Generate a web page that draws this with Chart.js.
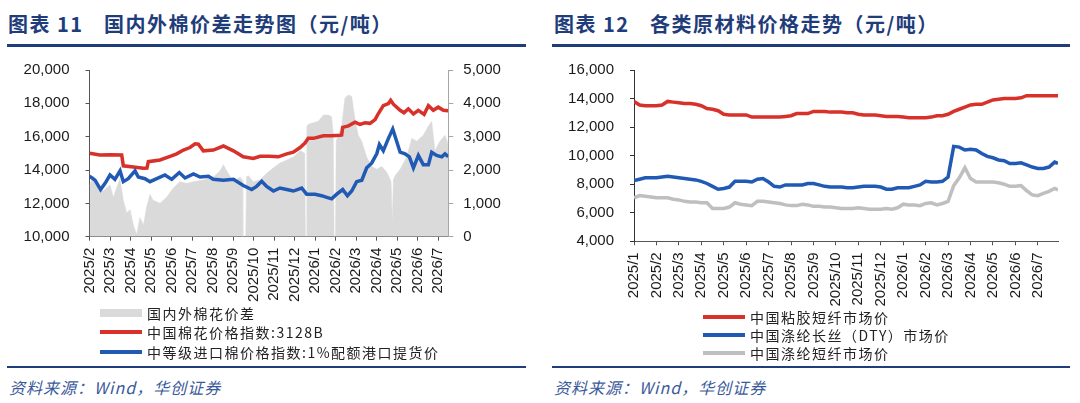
<!DOCTYPE html>
<html>
<head>
<meta charset="utf-8">
<script src="https://cdn.jsdelivr.net/npm/chart.js@4.4.1/dist/chart.umd.min.js"></script>
<style>
html, body { margin: 0; padding: 0; background: #fff; }
body { width: 1080px; height: 403px; position: relative; overflow: hidden; font-family: "Noto Sans CJK SC", "Noto Sans", sans-serif; }
.title { position: absolute; top: 13px; font-size: 20px; line-height: 22px; font-weight: bold; color: #1f3d7a; letter-spacing: 1.5px; white-space: pre; }
.rule { position: absolute; height: 2.5px; background: #1f3d7a; }
.src { position: absolute; top: 377px; font-size: 16px; line-height: 20px; font-style: italic; color: #3a5a9a; letter-spacing: 1px; }
canvas { position: absolute; top: 45px; }
.legend { position: absolute; font-size: 14px; color: #222; letter-spacing: 1.5px; }
.legend div { display: flex; align-items: center; white-space: nowrap; }
.legend i { display: inline-block; width: 42px; margin-right: 5px; }
</style>
</head>
<body>
<div class="title" style="left:8px">图表 11</div>
<div class="title" style="left:104px">国内外棉价差走势图（元/吨）</div>
<div class="rule" style="left:7px; width:519px; top:44px"></div>
<div class="title" style="left:554px">图表 12</div>
<div class="title" style="left:650px">各类原材料价格走势（元/吨）</div>
<div class="rule" style="left:552px; width:518px; top:44px"></div>

<canvas id="left" width="540" height="265" style="left:0"></canvas>
<canvas id="right" width="540" height="265" style="left:540px"></canvas>

<div class="legend" id="leftLegend" style="left:100px; top:303px"></div>
<div class="legend" id="rightLegend" style="left:703px; top:308px"></div>

<div class="rule" style="left:7px; width:519px; top:365.5px; height:2px"></div>
<div class="rule" style="left:552px; width:518px; top:365.5px; height:2px"></div>
<div class="src" style="left:9px">资料来源：Wind，华创证券</div>
<div class="src" style="left:554px">资料来源：Wind，华创证券</div>

<script>
// ---- left chart: months counted from 2025/2 ----
const leftMonths = ['2025/2', '2025/3', '2025/4', '2025/5', '2025/6', '2025/7', '2025/8', '2025/9', '2025/10',
    '2025/11', '2025/12', '2026/1', '2026/2', '2026/3', '2026/4', '2026/5', '2026/6', '2026/7'];

// 国内外棉花价差 (right axis)
const spreadMonths = [0, 0.19, 0.43, 0.67, 1.0, 1.16, 1.32, 1.49, 1.65, 1.81, 1.98, 2.14, 2.30, 2.46, 2.63, 2.79,
    2.95, 3.11, 3.44, 3.76, 4.09, 4.41, 4.74, 5.07, 5.55, 6.04, 6.37, 6.53, 6.69, 7.02, 7.34, 7.45, 7.48, 7.62,
    7.66, 7.75, 7.99, 8.32, 8.64, 8.97, 9.29, 9.62, 9.94, 10.27, 10.5, 10.53, 10.57, 10.6, 10.67, 10.92, 11.16,
    11.41, 11.65, 11.81, 11.89, 11.93, 12.0, 12.03, 12.3, 12.46, 12.63, 12.79, 12.95, 13.11, 13.28, 13.52, 13.76,
    14.01, 14.25, 14.5, 14.71, 14.77, 14.82, 14.9, 15.15, 15.47, 15.72, 15.96, 16.28, 16.53, 16.69, 16.85, 17.09,
    17.34, 17.5];
const spreadValues = [1510, 1830, 1460, 1370, 1555, 1180, 1460, 1740, 1090, 720, 810, 345, 65, 580, 345, 900,
    1275, 1090, 1000, 1180, 1460, 1650, 1600, 1650, 1700, 1790, 1975, 2160, 1975, 1650, 1790, 1700, 0, 0,
    1800, 1830, 1650, 1700, 1900, 2070, 2210, 2300, 2390, 2580, 2500, 0, 0, 3300, 3370, 3420, 3460,
    3650, 3650, 3600, 3040, 0, 0, 2860, 3320, 4160, 4250, 4210, 3510, 3040, 2860, 2390, 2110,
    2020, 2110, 1930, 1650, 440, 1700, 1830, 2020, 2390, 2950, 2860, 3040, 3320, 3460, 2580, 2860,
    3040, 2770];

// 中国棉花价格指数:3128B
const cnIndexMonths = [0, 0.51, 1.0, 1.57, 1.65, 2.14, 2.63, 2.8, 2.87, 3.44, 3.93, 4.25, 4.58, 4.9, 5.15, 5.31,
    5.55, 6.04, 6.53, 7.02, 7.5, 7.99, 8.32, 8.8, 9.21, 9.62, 9.94, 10.27, 10.51, 10.67, 10.92, 11.41, 11.81,
    12.22, 12.3, 12.35, 12.63, 12.95, 13.19, 13.44, 13.68, 13.93, 14.09, 14.33, 14.58, 14.69, 14.82, 15.15,
    15.34, 15.55, 15.8, 16.04, 16.32, 16.53, 16.77, 17.01, 17.26, 17.5];
const cnIndexValues = [15000, 14900, 14920, 14900, 14250, 14180, 14100, 14120, 14500, 14600, 14820, 14970, 15200,
    15350, 15570, 15550, 15150, 15200, 15440, 15150, 14790, 14690, 14820, 14820, 14790, 14970, 15070, 15350,
    15620, 15900, 15900, 16050, 16050, 16090, 16100, 16560, 16650, 16870, 16740, 16830, 16800, 17020, 17390,
    17860, 17990, 18180, 17950, 17580, 17430, 17670, 17360, 17580, 17340, 17860, 17580, 17770, 17580, 17550];

// 中等级进口棉价格指数:1%配额港口提货价
const importMonths = [0, 0.27, 0.54, 0.76, 1.0, 1.24, 1.49, 1.65, 1.89, 2.22, 2.38, 2.71, 2.95, 3.28, 3.68,
    4.01, 4.38, 4.66, 5.07, 5.39, 5.8, 6.04, 6.53, 7.02, 7.5, 7.91, 8.15, 8.4, 8.64, 8.97, 9.29, 9.62, 9.94,
    10.35, 10.59, 11.0, 11.32, 11.57, 11.81, 12.06, 12.35, 12.58, 12.79, 13.03, 13.28, 13.52, 13.76, 14.01,
    14.14, 14.33, 14.58, 14.79, 14.98, 15.15, 15.39, 15.6, 15.8, 16.04, 16.28, 16.53, 16.69, 16.93, 17.18,
    17.34, 17.5];
const importValues = [13630, 13390, 12830, 13200, 13700, 13440, 13950, 13300, 13480, 13950, 13580, 13480, 13300,
    13480, 13700, 13440, 13850, 13520, 13760, 13580, 13630, 13450, 13390, 13450, 13070, 12830, 13020, 13330,
    13020, 12740, 12920, 12830, 12740, 12920, 12550, 12550, 12460, 12360, 12270, 12550, 12830, 12460, 12740,
    13300, 13390, 14130, 14410, 14970, 15530, 15160, 15900, 16460, 15720, 15070, 14970, 14790, 14130, 14880,
    14320, 14320, 15070, 14880, 14790, 14970, 14800];

// ---- right chart: months counted from 2025/1, about weekly ----
const rightMonths = ['2025/1', '2025/2', '2025/3', '2025/4', '2025/5', '2025/6', '2025/7', '2025/8', '2025/9',
    '2025/10', '2025/11', '2025/12', '2026/1', '2026/2', '2026/3', '2026/4', '2026/5', '2026/6', '2026/7'];
const rightSteps = [];
for (let i = 0; i < 76; i++) rightSteps.push(i / 4);
rightSteps.push(18.9);

const viscoseValues = [13800, 13550, 13500, 13500, 13500, 13550, 13800, 13750, 13700, 13650, 13650, 13600,
    13500, 13300, 13250, 13150, 12900, 12850, 12850, 12850, 12850, 12700, 12700, 12700, 12700, 12700, 12700,
    12750, 12800, 12950, 12950, 12950, 13100, 13100, 13100, 13050, 13050, 13050, 13000, 13000, 12900, 12850,
    12850, 12850, 12800, 12750, 12750, 12750, 12700, 12650, 12650, 12650, 12650, 12700, 12800, 12800, 12900,
    13100, 13250, 13400, 13550, 13600, 13600, 13750, 13900, 13950, 14000, 14000, 14000, 14050, 14200, 14200,
    14200, 14200, 14200, 14200, 14200];
const dtyValues = [8250, 8350, 8450, 8450, 8450, 8500, 8550, 8500, 8450, 8400, 8350, 8300, 8200, 8050, 7850,
    7650, 7700, 7800, 8200, 8200, 8200, 8150, 8350, 8400, 8150, 7850, 7800, 7950, 7950, 7950, 7950, 8050, 8050,
    7950, 7850, 7800, 7800, 7800, 7750, 7750, 7800, 7850, 7850, 7850, 7800, 7650, 7650, 7750, 7750, 7750, 7850,
    7950, 8200, 8150, 8150, 8200, 8500, 10650, 10600, 10400, 10450, 10400, 10150, 9950, 9850, 9700, 9650, 9450,
    9450, 9500, 9350, 9200, 9100, 9100, 9200, 9550, 9450];
const psfValues = [7050, 7200, 7150, 7100, 7050, 7050, 7050, 6950, 6900, 6800, 6750, 6750, 6700, 6700, 6300,
    6300, 6300, 6400, 6700, 6600, 6550, 6500, 6800, 6800, 6750, 6700, 6650, 6550, 6500, 6500, 6600, 6550, 6450,
    6450, 6400, 6400, 6350, 6300, 6300, 6300, 6350, 6300, 6250, 6250, 6250, 6300, 6250, 6350, 6600, 6550, 6550,
    6500, 6650, 6700, 6550, 6650, 6800, 7900, 8450, 9150, 8400, 8150, 8150, 8150, 8150, 8100, 8000, 7850, 7850,
    7900, 7550, 7250, 7200, 7350, 7500, 7700, 7600];

const RED = '#d7312a';
const BLUE = '#215ab4';
const GRAY_FILL = '#dadada';
const GRAY_LINE = '#bfbfbf';
const TICK_FONT = { family: '"Liberation Sans", Arial, sans-serif', size: 15 };
const TICK_COLOR = '#1a1a1a';

function pairs(xs, ys) {
    return xs.map((x, i) => ({ x: x, y: ys[i] }));
}
function thousands(v) {
    return v.toLocaleString('en-US');
}
function axisStyle(color, tickLen) {
    return {
        grid: { drawOnChartArea: false, drawTicks: true, tickLength: tickLen, color: color, lineWidth: 1 },
        border: { color: color, width: 1 }
    };
}
function monthAxis(labels, max, height) {
    return Object.assign({
        type: 'linear', min: 0, max: max,
        afterFit: function (scale) { scale.height = height; },
        ticks: {
            stepSize: 1, autoSkip: false, includeBounds: false, maxRotation: 90, minRotation: 90,
            padding: 7, font: TICK_FONT, color: TICK_COLOR,
            callback: function (v) { return labels[v]; }
        }
    }, axisStyle('#555', 4));
}
function valueAxis(pos, min, max, step, width, color) {
    return Object.assign({
        position: pos, min: min, max: max,
        afterFit: function (scale) { scale.width = width; },
        ticks: { stepSize: step, padding: pos === 'left' ? 16 : 10, font: TICK_FONT, color: TICK_COLOR, callback: thousands }
    }, axisStyle(color, pos === 'left' ? 4 : 5));
}
function buildLegend(el, datasets) {
    datasets.forEach(function (ds) {
        const row = document.createElement('div');
        row.style.height = el.dataset.row + 'px';
        const sw = document.createElement('i');
        sw.style.height = ds.fill ? '8px' : '4px';
        sw.style.background = ds.fill ? ds.backgroundColor : ds.borderColor;
        row.appendChild(sw);
        row.appendChild(document.createTextNode(ds.label));
        el.appendChild(row);
    });
}

const commonOptions = {
    responsive: false,
    animation: false,
    plugins: { legend: { display: false }, tooltip: { enabled: false } },
    elements: { point: { radius: 0 }, line: { tension: 0 } }
};

const leftSets = [
    { label: '国内外棉花价差', data: pairs(spreadMonths, spreadValues), yAxisID: 'y1', fill: 'origin',
      backgroundColor: GRAY_FILL, borderColor: GRAY_FILL, borderWidth: 0.5, order: 2 },
    { label: '中国棉花价格指数:3128B', data: pairs(cnIndexMonths, cnIndexValues), yAxisID: 'y',
      borderColor: RED, borderWidth: 3.5, fill: false, order: 1 },
    { label: '中等级进口棉价格指数:1%配额港口提货价', data: pairs(importMonths, importValues), yAxisID: 'y',
      borderColor: BLUE, borderWidth: 3.5, fill: false, order: 0 }
];

new Chart(document.getElementById('left'), {
    type: 'line',
    data: { datasets: leftSets },
    options: Object.assign({}, commonOptions, {
        layout: { padding: { top: 12.3, right: 0, bottom: 0, left: 0 } },
        scales: {
            x: monthAxis(leftMonths, 17.5, 73.3),
            y: valueAxis('left', 10000, 20000, 2000, 89.5, '#555'),
            y1: valueAxis('right', 0, 5000, 1000, 91.7, '#a6a6a6')
        }
    })
});

const rightSets = [
    { label: '中国粘胶短纤市场价', data: pairs(rightSteps, viscoseValues), borderColor: RED, borderWidth: 3.5, fill: false },
    { label: '中国涤纶长丝（DTY）市场价', data: pairs(rightSteps, dtyValues), borderColor: BLUE, borderWidth: 3.5, fill: false },
    { label: '中国涤纶短纤市场价', data: pairs(rightSteps, psfValues), borderColor: GRAY_LINE, borderWidth: 3.5, fill: false }
];

new Chart(document.getElementById('right'), {
    type: 'line',
    data: { datasets: rightSets },
    options: Object.assign({}, commonOptions, {
        layout: { padding: { top: 12.3, right: 22, bottom: 0, left: 0 } },
        scales: {
            x: monthAxis(rightMonths, 18.9, 68.7),
            y: valueAxis('left', 4000, 16000, 2000, 94, '#333')
        }
    })
});

const leftLegend = document.getElementById('leftLegend');
leftLegend.dataset.row = 19.5;
buildLegend(leftLegend, leftSets);
const rightLegend = document.getElementById('rightLegend');
rightLegend.dataset.row = 18;
buildLegend(rightLegend, rightSets);
</script>
</body>
</html>
